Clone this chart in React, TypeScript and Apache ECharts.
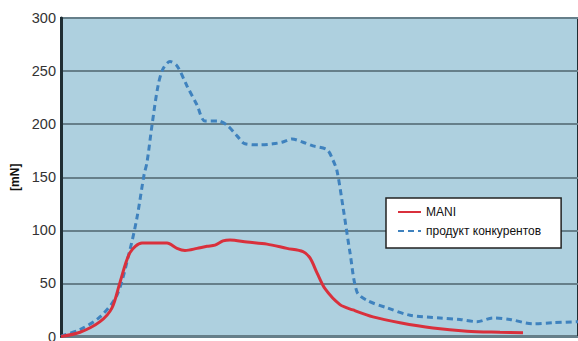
import React, { useEffect, useRef } from "react";
import * as echarts from "echarts";

// x positions (arbitrary time units along the curve), y values in mN
const maniX = [0, 19, 39, 51, 59, 69, 81, 96, 106, 116, 124, 136, 146, 154, 162, 169, 186, 206, 226, 242, 249, 256, 264, 279, 292, 312, 339, 372, 406, 439, 462];
const maniY = [0, 4, 14, 27, 51, 79, 88, 88, 88, 83, 81, 83, 85, 86, 90, 91, 89, 87, 83, 80, 74, 60, 45, 30, 25, 18.5, 13, 8, 5, 4, 3.5];

const compX = [0, 2, 19, 39, 56, 69, 76, 83, 86, 91, 97, 102, 109, 116, 126, 136, 144, 157, 166, 176, 184, 199, 212, 221, 231, 242, 252, 266, 272, 276, 282, 289, 296, 306, 326, 349, 379, 399, 416, 432, 449, 472, 492, 517];
const compY = [0, 1, 6.5, 18.5, 39, 82, 112, 152, 164, 199, 236, 252, 259, 255, 236, 218, 203, 203, 199, 189, 181.5, 180.5, 181.5, 183, 186, 183, 179.5, 176, 166, 156, 122, 79, 42, 34, 27, 20, 17.5, 16, 14, 17.5, 16, 12, 13, 14];

const yTicks = [0, 50, 100, 150, 200, 250, 300];
const seriesNames = ["MANI", "продукт конкурентов"];
const yName = "[mN]";

export default function App() {
  const ref = useRef<HTMLDivElement>(null);
  useEffect(() => {
    if (!ref.current) return;
    const chart = echarts.init(ref.current, undefined, { renderer: "svg" });
    const font = "'Liberation Sans', Arial, sans-serif";
    chart.setOption({
      animation: false,
      textStyle: { fontFamily: font },
      grid: {
        left: 61,
        top: 18,
        right: 0,
        bottom: 2,
        show: true,
        backgroundColor: "#aed0df",
        borderColor: "#1f2d33",
        borderWidth: 2,
      },
      xAxis: {
        type: "value",
        min: 0,
        max: 517,
        axisLine: { show: false },
        axisTick: { show: false },
        axisLabel: { show: false },
        splitLine: { show: false },
      },
      yAxis: {
        type: "value",
        min: yTicks[0],
        max: yTicks[yTicks.length - 1],
        interval: 50,
        name: yName,
        nameLocation: "middle",
        nameGap: 33,
        nameRotate: 90,
        nameTextStyle: { fontSize: 12, fontWeight: "bold", color: "#111", fontFamily: font },
        axisLine: { show: true, lineStyle: { color: "#1f2d33", width: 3 } },
        axisTick: { show: false },
        axisLabel: { fontSize: 14.5, color: "#333", margin: 5, fontFamily: font },
        splitLine: { show: true, lineStyle: { color: "#667f8a", width: 2 } },
      },
      legend: {
        orient: "vertical",
        left: 386,
        top: 198,
        padding: [8, 20, 11, 11],
        itemWidth: 23,
        itemHeight: 14,
        itemGap: 7,
        backgroundColor: "#ffffff",
        borderColor: "#222",
        borderWidth: 1.5,
        borderRadius: 0,
        itemStyle: { opacity: 0 },
        textStyle: { fontSize: 12, color: "#111", fontFamily: font },
        data: seriesNames,
      },
      series: [
        {
          name: seriesNames[0],
          type: "line",
          symbol: "none",
          smooth: 0.3,
          data: maniX.map((x, i) => [x, maniY[i]]),
          lineStyle: { color: "#d9303c", width: 3 },
          itemStyle: { color: "#d9303c" },
          z: 3,
        },
        {
          name: seriesNames[1],
          type: "line",
          symbol: "none",
          smooth: 0.3,
          data: compX.map((x, i) => [x, compY[i]]),
          lineStyle: { color: "#3f82be", width: 3, type: [6, 4] },
          itemStyle: { color: "#3f82be" },
          z: 2,
        },
      ],
    });
    return () => chart.dispose();
  }, []);
  return (
    <div
      ref={ref}
      style={{ position: "fixed", left: 0, top: 0, width: 578, height: 344, background: "#fff" }}
    />
  );
}
